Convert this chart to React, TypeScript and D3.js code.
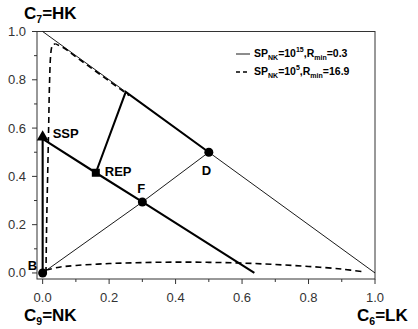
import React from "react";
import * as d3 from "d3";

type P = [number, number];

const xTicks = [0, 0.2, 0.4, 0.6, 0.8, 1.0];
const yTicks = [0, 0.2, 0.4, 0.6, 0.8, 1.0];
const minorTicks = [0.1, 0.3, 0.5, 0.7, 0.9];

const diagonal: P[] = [[0, 1], [1, 0]];
const distillateLine: P[] = [[0, 0], [0.3, 0.294], [0.5, 0.5]];
const operatingLine: P[] = [[0, 0.555], [0.16, 0.415], [0.3, 0.294], [0.637, 0]];
const rectifyingLine: P[] = [[0.16, 0.415], [0.25, 0.75], [0.5, 0.5]];
const sideLine: P[] = [[0, 0], [0, 0.555]];

const boundaryUpper: P[] = [
  [0.01, 0.0], [0.012, 0.2], [0.015, 0.4], [0.018, 0.6], [0.021, 0.8], [0.024, 0.9],
  [0.029, 0.945], [0.04, 0.95], [0.06, 0.935], [0.1, 0.895], [0.15, 0.845], [0.2, 0.795], [0.26, 0.735],
];
const boundaryLower: P[] = [
  [0.01, 0.012], [0.05, 0.024], [0.1, 0.031], [0.2, 0.039], [0.3, 0.043], [0.4, 0.045],
  [0.5, 0.044], [0.6, 0.041], [0.7, 0.035], [0.8, 0.027], [0.9, 0.016], [0.97, 0.004],
];

const circlePoints: { name: string; p: P; dx: number; dy: number }[] = [
  { name: "B", p: [0, 0], dx: -15, dy: -3 },
  { name: "F", p: [0.3, 0.294], dx: -5, dy: -9 },
  { name: "D", p: [0.5, 0.5], dx: -7, dy: 23 },
];
const repPoint: P = [0.16, 0.415];
const sspPoint: P = [0, 0.567];

const legendLabels = [
  { sp: "15", r: "0.3", dash: "none" },
  { sp: "5", r: "16.9", dash: "4,3" },
];

export default function App() {
  const W = 418, H = 329;
  const x = d3.scaleLinear().domain([-0.017, 1]).range([37, 375]);
  const y = d3.scaleLinear().domain([-0.025, 1]).range([279, 31.5]);
  const line = d3.line<P>().x((d) => x(d[0])).y((d) => y(d[1]));
  const curve = d3.line<P>().x((d) => x(d[0])).y((d) => y(d[1])).curve(d3.curveMonotoneY);
  const curveX = d3.line<P>().x((d) => x(d[0])).y((d) => y(d[1])).curve(d3.curveCatmullRom);
  const tickFont = { fontFamily: "Liberation Sans, Arial, sans-serif", fontSize: 13, fill: "#333" };
  const bold = { fontFamily: "Liberation Sans, Arial, sans-serif", fontWeight: 700 as const, fill: "#000" };
  const x0 = x.range()[0], x1 = x.range()[1], yb = y.range()[0], yt = y.range()[1];
  const tri = d3.symbol().type(d3.symbolTriangle).size(60)() as string;

  return (
    <svg width={W} height={H} style={{ position: "absolute", left: 0, top: 0, background: "#fff" }}>
      {/* frame */}
      <rect x={x0} y={yt} width={x1 - x0} height={yb - yt} fill="none" stroke="#333" strokeWidth={1} />
      {/* x ticks */}
      {xTicks.map((t) => (
        <g key={"xt" + t}>
          <line x1={x(t)} x2={x(t)} y1={yb} y2={yb + 5} stroke="#333" />
          <text x={x(t)} y={yb + 23} textAnchor="middle" {...tickFont}>{d3.format(".1f")(t)}</text>
        </g>
      ))}
      {minorTicks.map((t) => (
        <line key={"xm" + t} x1={x(t)} x2={x(t)} y1={yb} y2={yb + 3} stroke="#333" />
      ))}
      {yTicks.map((t) => (
        <g key={"yt" + t}>
          <line x1={x0 - 5} x2={x0} y1={y(t)} y2={y(t)} stroke="#333" />
          <text x={x0 - 11} y={y(t) + 4.5} textAnchor="end" {...tickFont}>{d3.format(".1f")(t)}</text>
        </g>
      ))}
      {minorTicks.map((t) => (
        <line key={"ym" + t} x1={x0 - 3} x2={x0} y1={y(t)} y2={y(t)} stroke="#333" />
      ))}

      {/* thin lines */}
      <path d={line(diagonal)!} fill="none" stroke="#000" strokeWidth={0.9} />
      <path d={line(distillateLine)!} fill="none" stroke="#000" strokeWidth={0.9} />
      {/* dashed boundary */}
      <path d={curve(boundaryUpper)!} fill="none" stroke="#000" strokeWidth={1.6} strokeDasharray="6,4" />
      <path d={curveX(boundaryLower)!} fill="none" stroke="#000" strokeWidth={1.6} strokeDasharray="6,4" />
      {/* thick lines */}
      <path d={line(operatingLine)!} fill="none" stroke="#000" strokeWidth={2.1} />
      <path d={line(rectifyingLine)!} fill="none" stroke="#000" strokeWidth={2.1} />
      <path d={line(sideLine)!} fill="none" stroke="#000" strokeWidth={2.1} />

      {/* markers */}
      {circlePoints.map((c) => (
        <g key={c.name}>
          <circle cx={x(c.p[0])} cy={y(c.p[1])} r={4.5} fill="#000" />
          <text x={x(c.p[0]) + c.dx} y={y(c.p[1]) + c.dy} fontSize={13} {...bold}>{c.name}</text>
        </g>
      ))}
      <rect x={x(repPoint[0]) - 4} y={y(repPoint[1]) - 4} width={8} height={8} fill="#000" />
      <text x={x(repPoint[0]) + 9} y={y(repPoint[1]) + 3} fontSize={13} {...bold}>REP</text>
      <path d={tri} transform={`translate(${x(sspPoint[0])},${y(sspPoint[1]) + 1})`} fill="#000" />
      <text x={x(sspPoint[0]) + 10} y={y(sspPoint[1]) + 2} fontSize={13} {...bold}>SSP</text>

      {/* legend */}
      {legendLabels.map((l, i) => {
        const ly = 57 + i * 18;
        return (
          <g key={"lg" + i}>
            <line x1={236} x2={250} y1={ly - 3} y2={ly - 3} stroke="#000" strokeWidth={l.dash === "none" ? 0.9 : 1.6} strokeDasharray={l.dash === "none" ? undefined : l.dash} />
            <text x={254} y={ly} fontSize={10.5} {...bold}>
              SP<tspan fontSize={7} dy={3}>NK</tspan>
              <tspan dy={-3}>=10</tspan>
              <tspan fontSize={7} dy={-5}>{l.sp}</tspan>
              <tspan dy={5}>,R</tspan>
              <tspan fontSize={7} dy={3}>min</tspan>
              <tspan dy={-3}>={l.r}</tspan>
            </text>
          </g>
        );
      })}

      {/* axis titles */}
      <text x={24} y={19} fontSize={17} {...bold}>C<tspan fontSize={10.5} dy={4}>7</tspan><tspan dy={-4}>=HK</tspan></text>
      <text x={24} y={321} fontSize={17} {...bold}>C<tspan fontSize={10.5} dy={4}>9</tspan><tspan dy={-4}>=NK</tspan></text>
      <text x={357} y={321} fontSize={17} {...bold}>C<tspan fontSize={10.5} dy={4}>6</tspan><tspan dy={-4}>=LK</tspan></text>
    </svg>
  );
}
